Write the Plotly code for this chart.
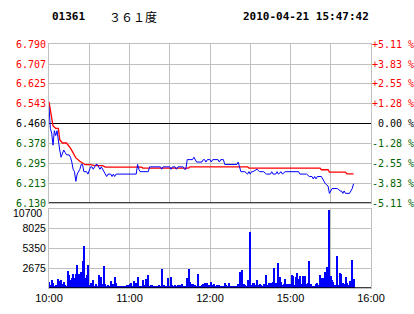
import plotly.graph_objects as go

# ---------------- data ----------------
stock_code = "01361"
stock_name = "３６１度"
stamp = "2010-04-21 15:47:42"
prev_close = 6.460

price_tick_vals = [6.130, 6.213, 6.295, 6.378, 6.460, 6.543, 6.625, 6.707, 6.790]
pct_tick_text = ["-5.11 %", "-3.83 %", "-2.55 %", "-1.28 %", "\u00a00.00 %",
                 "+1.28 %", "+2.55 %", "+3.83 %", "+5.11 %"]
vol_tick_vals = [2675, 5350, 8025, 10700]
vol_tick_text = ["2675", "5350", "8025", "10700"]
time_tick_vals = [0, 30, 60, 90, 120, 150, 180, 210, 240]
time_tick_text = ["10:00", "", "11:00", "", "12:00", "", "15:00", "", "16:00"]

price_min = [0, 1, 2, 3, 4, 5, 6, 7, 8, 9, 10, 11, 12, 13, 15, 16, 17, 18, 19, 20,
             21, 22, 23, 24, 25, 26, 27, 28, 29, 30, 31, 32, 33, 34, 35, 36, 37, 38, 39, 40,
             41, 42, 43, 44, 46, 47, 48, 49, 50, 65, 66, 67, 68, 74, 75, 83, 84, 85, 90, 91,
             92, 94, 95, 96, 100, 101, 102, 103, 107, 108, 109, 110, 114, 115, 116, 117, 118, 120, 121, 122,
             126, 127, 128, 130, 131, 140, 141, 142, 143, 146, 148, 149, 150, 151, 152, 155, 157, 160, 162, 165,
             166, 167, 169, 170, 171, 173, 174, 176, 186, 187, 192, 194, 196, 197, 198, 199, 200, 203, 204, 206,
             208, 209, 210, 211, 215, 217, 218, 219, 220, 221, 224, 225, 226, 227]
price = [6.53, 6.44, 6.42, 6.37, 6.43, 6.41, 6.43, 6.38, 6.35, 6.32, 6.34, 6.35, 6.34, 6.33, 6.33, 6.32, 6.30, 6.27, 6.26, 6.22,
         6.25, 6.26, 6.27, 6.29, 6.29, 6.26, 6.26, 6.26, 6.25, 6.27, 6.28, 6.28, 6.27, 6.28, 6.29, 6.29, 6.28, 6.27, 6.28, 6.27,
         6.26, 6.25, 6.24, 6.25, 6.25, 6.24, 6.25, 6.24, 6.25, 6.25, 6.29, 6.27, 6.26, 6.26, 6.28, 6.28, 6.27, 6.28, 6.28, 6.27,
         6.28, 6.28, 6.27, 6.28, 6.28, 6.27, 6.27, 6.31, 6.31, 6.32, 6.31, 6.30, 6.30, 6.31, 6.31, 6.30, 6.31, 6.31, 6.30, 6.31,
         6.31, 6.30, 6.31, 6.31, 6.29, 6.29, 6.30, 6.28, 6.26, 6.26, 6.25, 6.26, 6.25, 6.26, 6.26, 6.27, 6.26, 6.26, 6.25, 6.25,
         6.26, 6.25, 6.25, 6.26, 6.25, 6.26, 6.25, 6.26, 6.26, 6.25, 6.25, 6.24, 6.24, 6.23, 6.24, 6.23, 6.24, 6.24, 6.23, 6.21,
         6.20, 6.17, 6.18, 6.19, 6.19, 6.18, 6.18, 6.17, 6.18, 6.17, 6.17, 6.18, 6.19, 6.21]

avg_min = [0, 3, 5, 7, 8, 10, 13, 16, 18, 20, 23, 27, 31, 34, 40, 42, 69, 70, 104, 105,
           148, 149, 202, 203, 208, 209, 221, 222, 227]
avg_price = [6.550, 6.450, 6.440, 6.440, 6.393, 6.379, 6.379, 6.358, 6.338, 6.317, 6.303, 6.289, 6.289, 6.285, 6.285,
             6.279, 6.279, 6.275, 6.275, 6.280, 6.280, 6.275, 6.275, 6.268, 6.268, 6.258, 6.258, 6.251, 6.251]

volume = [770, 400, 1040, 630, 270, 400, 270, 1220, 950, 1040,
          500, 770, 400, 270, 2300, 1760, 1080, 1400, 1850, 1400,
          1850, 3110, 1850, 1080, 2210, 3650, 5680, 1400, 1760, 3110,
          400, 630, 630, 1080, 270, 500, 270, 1760, 720, 1530,
          540, 2980, 540, 270, 400, 270, 950, 400, 540, 1530,
          630, 270, 270, 270, 270, 270, 270, 270, 400, 400,
          500, 630, 270, 950, 500, 630, 1530, 270, 270, 270,
          1080, 400, 1220, 400, 1760, 270, 400, 400, 270, 270,
          270, 270, 400, 270, 2570, 400, 400, 270, 270, 1400,
          270, 1530, 400, 270, 400, 270, 400, 270, 400, 540,
          270, 270, 270, 1400, 2570, 770, 540, 540, 400, 400,
          270, 1890, 270, 270, 400, 540, 720, 400, 630, 400,
          270, 770, 400, 540, 270, 400, 270, 400, 270, 270,
          270, 630, 400, 270, 630, 270, 270, 270, 270, 270,
          270, 500, 2120, 1080, 2440, 500, 400, 270, 1080, 400,
          7600, 400, 630, 630, 400, 1080, 400, 540, 400, 270,
          540, 540, 1760, 400, 630, 630, 720, 860, 2750, 720,
          400, 3430, 1530, 860, 400, 540, 1220, 540, 540, 540,
          540, 1760, 1670, 400, 1490, 1980, 1220, 1620, 540, 1620,
          540, 1670, 540, 720, 3650, 500, 270, 270, 270, 540,
          720, 400, 1760, 1400, 1400, 400, 2210, 2890, 2570, 10500,
          1670, 1080, 860, 400, 400, 4330, 400, 1980, 1890, 630,
          540, 1530, 630, 400, 950, 400, 3790, 1220]
vol_min = list(range(len(volume)))

# ---------------- styling ----------------
RED = "#ff0000"
GREEN = "#006400"
GRID = "#c0c0c0"
MONO = "DejaVu Sans Mono"
SANS = "Liberation Sans"


def col_for(v):
    if abs(v - prev_close) < 1e-6:
        return "#000000"
    return RED if v > prev_close else GREEN


left_text = [f'<span style="color:{col_for(v)}">{v:.3f}</span>' for v in price_tick_vals]
right_text = [f'<span style="color:{col_for(v)}">{t}</span>' for v, t in zip(price_tick_vals, pct_tick_text)]

fig = go.Figure()
fig.add_trace(go.Scatter(x=avg_min, y=avg_price, mode="lines", line=dict(color=RED, width=1.3),
                         xaxis="x", yaxis="y", showlegend=False, hoverinfo="skip"))
fig.add_trace(go.Scatter(x=price_min, y=price, mode="lines", line=dict(color="#0000ff", width=1),
                         xaxis="x", yaxis="y", showlegend=False))
fig.add_trace(go.Scatter(x=[0, 240], y=[price_tick_vals[0], price_tick_vals[-1]], mode="markers",
                         marker=dict(opacity=0), xaxis="x", yaxis="y2", showlegend=False, hoverinfo="skip"))
fig.add_trace(go.Bar(x=vol_min, y=volume, width=0.75, marker=dict(color="#0000ff", line=dict(width=0)),
                     xaxis="x2", yaxis="y3", showlegend=False))

main_bottom = (288 - 203) / 244
vol_top = (288 - 209) / 244

axis_common = dict(range=[0, 240], tickvals=time_tick_vals, showgrid=True, gridcolor=GRID, gridwidth=1,
                   showline=True, linecolor=GRID, linewidth=1, mirror=True, zeroline=False, ticks="",
                   fixedrange=True, automargin=False)

fig.update_layout(
    width=414, height=314,
    margin=dict(l=49, r=43, t=44, b=26),
    paper_bgcolor="white", plot_bgcolor="white",
    bargap=0,
    xaxis=dict(axis_common, anchor="y", domain=[0, 1], showticklabels=False,
               ticktext=time_tick_text),
    xaxis2=dict(axis_common, anchor="y3", domain=[0, 1], ticktext=time_tick_text,
                tickfont=dict(family=SANS, size=11, color="#000000")),
    yaxis=dict(domain=[main_bottom, 1], range=[price_tick_vals[0], price_tick_vals[-1]],
               tickvals=price_tick_vals, ticktext=left_text, showgrid=True, gridcolor=GRID,
               showline=True, linecolor=GRID, mirror=True, zeroline=False, ticks="",
               tickfont=dict(family=MONO, size=10), fixedrange=True, automargin=False),
    yaxis2=dict(overlaying="y", side="right", anchor="x", range=[price_tick_vals[0], price_tick_vals[-1]],
                tickvals=price_tick_vals, ticktext=right_text, showgrid=False, zeroline=False,
                showline=False, ticks="", tickfont=dict(family=MONO, size=10), fixedrange=True,
                automargin=False),
    yaxis3=dict(domain=[0, vol_top], range=[0, vol_tick_vals[-1]], tickvals=vol_tick_vals[:-1],
                ticktext=vol_tick_text[:-1],
                showgrid=True, gridcolor=GRID, showline=True, linecolor=GRID, mirror=True,
                zeroline=False, ticks="", anchor="x2",
                tickfont=dict(family=SANS, size=10.5, color="#000000"), fixedrange=True, automargin=False),
    shapes=[
        dict(type="line", xref="x", yref="y", x0=0, x1=240, y0=prev_close, y1=prev_close,
             line=dict(color="#000000", width=1), layer="between"),
        dict(type="line", xref="x", yref="y", x0=0, x1=240, y0=price_tick_vals[0], y1=price_tick_vals[0],
             line=dict(color="#000000", width=1.5), layer="above"),
        dict(type="line", xref="x2", yref="y3", x0=0, x1=240, y0=0, y1=0,
             line=dict(color="#000000", width=1.5), layer="above"),
    ],
    annotations=[
        dict(text=f"<b>{stock_code}</b>", xref="paper", yref="paper", x=(50 - 49) / 322, y=(288 - 16) / 244,
             xanchor="left", yanchor="middle", showarrow=False, font=dict(family=MONO, size=11, color="#000")),
        dict(text=stock_name, xref="paper", yref="paper", x=(107 - 49) / 322, y=(288 - 16) / 244,
             xanchor="left", yanchor="middle", showarrow=False,
             font=dict(family="Noto Sans CJK SC", size=12, color="#000")),
        dict(text=f"<b>{stamp}</b>", xref="paper", yref="paper", x=(371 - 49) / 322, y=(288 - 16) / 244,
             xanchor="right", yanchor="middle", showarrow=False, font=dict(family=MONO, size=11, color="#000")),
        # top volume scale label, sits just under the pane's top edge as in the reference
        dict(text=vol_tick_text[-1], xref="paper", yref="paper", x=-(49 - 44) / 322, y=(288 - 213) / 244,
             xanchor="right", yanchor="middle", showarrow=False,
             font=dict(family=SANS, size=10.5, color="#000")),
    ],
)

fig.write_html("out.html")
